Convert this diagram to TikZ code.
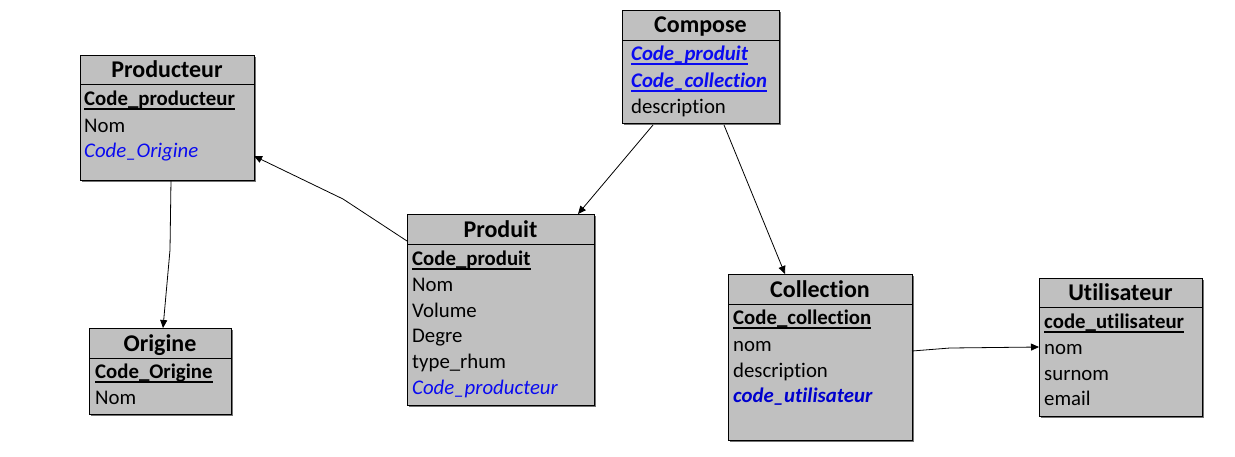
\documentclass[tikz,border=0pt]{standalone}
\usepackage{fontspec}
\setmainfont[Ligatures=NoCommon]{Carlito}
\usetikzlibrary{arrows.meta,calc}
\definecolor{boxgray}{RGB}{192,192,192}
\definecolor{fkblue}{RGB}{10,10,240}
\definecolor{fkdblue}{RGB}{0,0,205}
\tikzset{
  entity/.style={draw=black,fill=boxgray,line width=1pt,rectangle,anchor=north west,inner sep=0pt,outer sep=0pt},
  shadowbox/.style={fill=black!55,rectangle,anchor=north west,inner sep=0pt,outer sep=0pt},
  ttl/.style={anchor=base,inner sep=0pt,font=\fontsize{24}{28}\selectfont\bfseries},
  attr/.style={anchor=base west,inner sep=0pt,font=\fontsize{20.8}{24}\selectfont},
  pk/.style={attr,font=\fontsize{20.8}{24}\selectfont\bfseries},
  fk/.style={attr,text=fkblue,font=\fontsize{20.8}{24}\selectfont\itshape},
  fkpk/.style={attr,text=fkblue,font=\fontsize{20.8}{24}\selectfont\bfseries\itshape},
  fkb/.style={attr,text=fkdblue,font=\fontsize{20.8}{24}\selectfont\bfseries\itshape},
  sep/.style={line width=1pt},
  uline/.style={line width=1.4pt},
  conn/.style={line width=0.8pt,-{Triangle[length=8pt,width=7pt]}},
}
\begin{document}
\begin{tikzpicture}[x=1pt,y=-1pt]
\useasboundingbox (0,0) rectangle (1235,456);
% ---------- boxes ----------
\node[shadowbox,minimum width=174,minimum height=125] at (82,57) {};
\node[entity,minimum width=174,minimum height=125] (prod) at (80,55) {};
\node[shadowbox,minimum width=142,minimum height=86] at (91,330) {};
\node[entity,minimum width=142,minimum height=86] (orig) at (89,328) {};
\node[shadowbox,minimum width=187,minimum height=191] at (409,216) {};
\node[entity,minimum width=187,minimum height=191] (produit) at (407,214) {};
\node[shadowbox,minimum width=157,minimum height=113] at (624,12) {};
\node[entity,minimum width=157,minimum height=113] (comp) at (622,10) {};
\node[shadowbox,minimum width=184,minimum height=166] at (730,276) {};
\node[entity,minimum width=184,minimum height=166] (coll) at (728,274) {};
\node[shadowbox,minimum width=163,minimum height=138] at (1041,280) {};
\node[entity,minimum width=163,minimum height=138] (util) at (1039,278) {};
% ---------- Producteur ----------
\draw[sep] (80,84) -- (254,84);
\node[ttl] (prodT) at (167,77) {Producteur};
\node[pk] (prodA) at (84,105) {Code\_producteur};
\draw[uline] ([yshift=-4pt]prodA.base west) -- ([yshift=-4pt]prodA.base east);
\node[attr] (prodB) at (84,132) {Nom};
\node[fk] (prodC) at (84,157) {Code\_Origine};
% ---------- Origine ----------
\draw[sep] (89,358) -- (231,358);
\node[ttl] (origT) at (160,351) {Origine};
\node[pk] (origA) at (95,378) {Code\_Origine};
\draw[uline] ([yshift=-4pt]origA.base west) -- ([yshift=-4pt]origA.base east);
\node[attr] (origB) at (95,404) {Nom};
% ---------- Produit ----------
\draw[sep] (407,244) -- (594,244);
\node[ttl] (produitT) at (500.5,237) {Produit};
\node[pk] (produitA) at (412,265) {Code\_produit};
\draw[uline] ([yshift=-4pt]produitA.base west) -- ([yshift=-4pt]produitA.base east);
\node[attr] (produitB) at (412,291) {Nom};
\node[attr] (produitC) at (412,317) {Volume};
\node[attr] (produitD) at (412,342) {Degre};
\node[attr] (produitE) at (412,368) {type\_rhum};
\node[fk] (produitF) at (412,394) {Code\_producteur};
% ---------- Compose ----------
\draw[sep] (622,40) -- (779,40);
\node[ttl] (compT) at (700.5,32) {Compose};
\node[fkpk] (compA) at (631,60) {Code\_produit};
\draw[uline,fkblue] ([yshift=-4pt]compA.base west) -- ([yshift=-4pt]compA.base east);
\node[fkpk] (compB) at (631,87) {Code\_collection};
\draw[uline,fkblue] ([yshift=-4pt]compB.base west) -- ([yshift=-4pt]compB.base east);
\node[attr] (compC) at (631,113) {description};
% ---------- Collection ----------
\draw[sep] (728,304) -- (912,304);
\node[ttl] (collT) at (820,297) {Collection};
\node[pk] (collA) at (733,324) {Code\_collection};
\draw[uline] ([yshift=-4pt]collA.base west) -- ([yshift=-4pt]collA.base east);
\node[attr] (collB) at (733,351) {nom};
\node[attr] (collC) at (733,377) {description};
\node[fkb] (collD) at (733,402) {code\_utilisateur};
% ---------- Utilisateur ----------
\draw[sep] (1039,307) -- (1202,307);
\node[ttl] (utilT) at (1120.5,300) {Utilisateur};
\node[pk] (utilA) at (1044,328) {code\_utilisateur};
\draw[uline] ([yshift=-4pt]utilA.base west) -- ([yshift=-4pt]utilA.base east);
\node[attr] (utilB) at (1044,354) {nom};
\node[attr] (utilC) at (1044,380) {surnom};
\node[attr] (utilD) at (1044,405) {email};
% ---------- connectors ----------
\coordinate (b1) at (170,250);
\coordinate (b2) at (343,199);
\coordinate (b3) at (950,348);
\draw[conn] ([xshift=91pt]prod.south west) -- (b1) -- ([xshift=74pt]orig.north west);
\draw[conn] ([yshift=-27pt]produit.north west) -- (b2) -- ([yshift=-101pt]prod.north east);
\draw[conn] ([xshift=31pt,yshift=-2pt]comp.south west) -- ([xshift=171pt]produit.north west);
\draw[conn] ([xshift=102pt,yshift=-2pt]comp.south west) -- ([xshift=57pt]coll.north west);
\draw[conn] ([yshift=-77pt]coll.north east) -- (b3) -- ([yshift=-69pt]util.north west);
\end{tikzpicture}
\end{document}
